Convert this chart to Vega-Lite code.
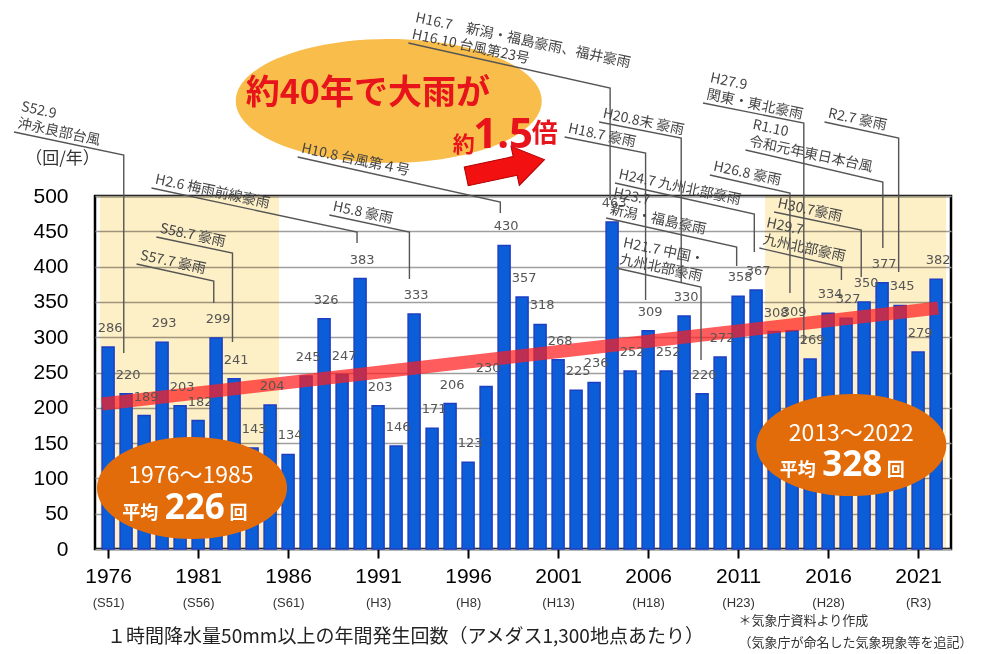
{
  "$schema": "https://vega.github.io/schema/vega-lite/v6.json",
  "width": 856,
  "height": 353,
  "autosize": {"type": "none"},
  "padding": {"left": 95, "top": 196, "right": 46, "bottom": 105},
  "background": "white",
  "config": {"view": {"stroke": "black", "strokeWidth": 2.5}, "font": "Noto Sans CJK JP"},
  "datasets": {
    "rain": [
      {"year": 1976, "count": 286}, {"year": 1977, "count": 220}, {"year": 1978, "count": 189},
      {"year": 1979, "count": 293}, {"year": 1980, "count": 203}, {"year": 1981, "count": 182},
      {"year": 1982, "count": 299}, {"year": 1983, "count": 241}, {"year": 1984, "count": 143},
      {"year": 1985, "count": 204}, {"year": 1986, "count": 134}, {"year": 1987, "count": 245},
      {"year": 1988, "count": 326}, {"year": 1989, "count": 247}, {"year": 1990, "count": 383},
      {"year": 1991, "count": 203}, {"year": 1992, "count": 146}, {"year": 1993, "count": 333},
      {"year": 1994, "count": 171}, {"year": 1995, "count": 206}, {"year": 1996, "count": 123},
      {"year": 1997, "count": 230}, {"year": 1998, "count": 430}, {"year": 1999, "count": 357},
      {"year": 2000, "count": 318}, {"year": 2001, "count": 268}, {"year": 2002, "count": 225},
      {"year": 2003, "count": 236}, {"year": 2004, "count": 463}, {"year": 2005, "count": 252},
      {"year": 2006, "count": 309}, {"year": 2007, "count": 252}, {"year": 2008, "count": 330},
      {"year": 2009, "count": 220}, {"year": 2010, "count": 272}, {"year": 2011, "count": 358},
      {"year": 2012, "count": 367}, {"year": 2013, "count": 308}, {"year": 2014, "count": 309},
      {"year": 2015, "count": 269}, {"year": 2016, "count": 334}, {"year": 2017, "count": 327},
      {"year": 2018, "count": 350}, {"year": 2019, "count": 377}, {"year": 2020, "count": 345},
      {"year": 2021, "count": 279}, {"year": 2022, "count": 382}
    ],
    "zones": [{"start": 1975.55, "end": 1985.5, "count": 500, "base": 0}, {"start": 2012.5, "end": 2022.55, "count": 500, "base": 0}],
    "trend": [{"year": 1975.66, "count": 205.4}, {"year": 2022.12, "count": 341.4}],
    "leaders": [
      {"id": "A", "ord": 0, "year": 1970.77, "count": 590.7}, {"id": "A", "ord": 1, "year": 1976.87, "count": 558.1}, {"id": "A", "ord": 2, "year": 1976.87, "count": 277.6},
      {"id": "B", "ord": 0, "year": 1978.41, "count": 511.3}, {"id": "B", "ord": 1, "year": 1989.83, "count": 449.0}, {"id": "B", "ord": 2, "year": 1989.83, "count": 433.4},
      {"id": "C", "ord": 0, "year": 1978.68, "count": 441.9}, {"id": "C", "ord": 1, "year": 1982.91, "count": 419.3}, {"id": "C", "ord": 2, "year": 1982.91, "count": 293.2},
      {"id": "D", "ord": 0, "year": 1977.58, "count": 403.7}, {"id": "D", "ord": 1, "year": 1981.87, "count": 379.6}, {"id": "D", "ord": 2, "year": 1981.87, "count": 348.4},
      {"id": "E", "ord": 0, "year": 1988.29, "count": 473.1}, {"id": "E", "ord": 1, "year": 1992.74, "count": 449.0}, {"id": "E", "ord": 2, "year": 1992.74, "count": 382.4},
      {"id": "F", "ord": 0, "year": 1986.53, "count": 555.2}, {"id": "F", "ord": 1, "year": 1997.79, "count": 491.5}, {"id": "F", "ord": 2, "year": 1997.79, "count": 475.9},
      {"id": "G", "ord": 0, "year": 1992.68, "count": 716.7}, {"id": "G", "ord": 1, "year": 2003.89, "count": 653.0}, {"id": "G", "ord": 2, "year": 2003.89, "count": 494.3},
      {"id": "H", "ord": 0, "year": 2003.28, "count": 604.8}, {"id": "H", "ord": 1, "year": 2007.84, "count": 582.2}, {"id": "H", "ord": 2, "year": 2007.84, "count": 378.2},
      {"id": "I", "ord": 0, "year": 2001.36, "count": 583.6}, {"id": "I", "ord": 1, "year": 2005.86, "count": 560.9}, {"id": "I", "ord": 2, "year": 2005.86, "count": 352.7},
      {"id": "J", "ord": 0, "year": 2004.16, "count": 518.4}, {"id": "J", "ord": 1, "year": 2011.90, "count": 474.5}, {"id": "J", "ord": 2, "year": 2011.90, "count": 420.7},
      {"id": "K", "ord": 0, "year": 2003.67, "count": 468.8}, {"id": "K", "ord": 1, "year": 2010.92, "count": 427.8}, {"id": "K", "ord": 2, "year": 2010.92, "count": 400.9},
      {"id": "L", "ord": 0, "year": 2004.22, "count": 398.0}, {"id": "L", "ord": 1, "year": 2008.94, "count": 371.1}, {"id": "L", "ord": 2, "year": 2008.94, "count": 267.7},
      {"id": "M", "ord": 0, "year": 2009.05, "count": 631.7}, {"id": "M", "ord": 1, "year": 2014.65, "count": 603.4}, {"id": "M", "ord": 2, "year": 2014.65, "count": 291.8},
      {"id": "N", "ord": 0, "year": 2011.41, "count": 565.2}, {"id": "N", "ord": 1, "year": 2019.04, "count": 519.8}, {"id": "N", "ord": 2, "year": 2019.04, "count": 426.3},
      {"id": "O", "ord": 0, "year": 2015.80, "count": 604.8}, {"id": "O", "ord": 1, "year": 2019.92, "count": 582.2}, {"id": "O", "ord": 2, "year": 2019.92, "count": 392.3},
      {"id": "P", "ord": 0, "year": 2009.43, "count": 529.7}, {"id": "P", "ord": 1, "year": 2013.88, "count": 504.2}, {"id": "P", "ord": 2, "year": 2013.88, "count": 362.6},
      {"id": "Q", "ord": 0, "year": 2013.00, "count": 477.3}, {"id": "Q", "ord": 1, "year": 2017.84, "count": 451.8}, {"id": "Q", "ord": 2, "year": 2017.84, "count": 385.3},
      {"id": "R", "ord": 0, "year": 2012.18, "count": 426.3}, {"id": "R", "ord": 1, "year": 2016.74, "count": 399.4}, {"id": "R", "ord": 2, "year": 2016.74, "count": 381.0}
    ],
    "notes": [
      {"id": "A", "lines": 2, "year": 1970.77, "count": 590.7, "label": "S52.9\n沖永良部台風"},
      {"id": "B", "lines": 1, "year": 1978.41, "count": 511.3, "label": "H2.6 梅雨前線豪雨"},
      {"id": "C", "lines": 1, "year": 1978.68, "count": 441.9, "label": "S58.7 豪雨"},
      {"id": "D", "lines": 1, "year": 1977.58, "count": 403.7, "label": "S57.7 豪雨"},
      {"id": "E", "lines": 1, "year": 1988.29, "count": 473.1, "label": "H5.8 豪雨"},
      {"id": "F", "lines": 1, "year": 1986.53, "count": 555.2, "label": "H10.8 台風第４号"},
      {"id": "G", "lines": 2, "year": 1992.68, "count": 716.7, "label": "H16.7　新潟・福島豪雨、福井豪雨\nH16.10 台風第23号"},
      {"id": "H", "lines": 1, "year": 2003.28, "count": 604.8, "label": "H20.8末 豪雨"},
      {"id": "I", "lines": 1, "year": 2001.36, "count": 583.6, "label": "H18.7 豪雨"},
      {"id": "J", "lines": 1, "year": 2004.16, "count": 518.4, "label": "H24.7 九州北部豪雨"},
      {"id": "K", "lines": 2, "year": 2003.67, "count": 468.8, "label": "H23.7\n新潟・福島豪雨"},
      {"id": "L", "lines": 2, "year": 2004.22, "count": 398.0, "label": "H21.7 中国・\n九州北部豪雨"},
      {"id": "M", "lines": 2, "year": 2009.05, "count": 631.7, "label": "H27.9\n関東・東北豪雨"},
      {"id": "N", "lines": 2, "year": 2011.41, "count": 565.2, "label": "R1.10\n令和元年東日本台風"},
      {"id": "O", "lines": 1, "year": 2015.80, "count": 604.8, "label": "R2.7 豪雨"},
      {"id": "P", "lines": 1, "year": 2009.43, "count": 529.7, "label": "H26.8 豪雨"},
      {"id": "Q", "lines": 1, "year": 2013.00, "count": 477.3, "label": "H30.7豪雨"},
      {"id": "R", "lines": 2, "year": 2012.18, "count": 426.3, "label": "H29.7\n九州北部豪雨"}
    ],
    "callouts": [
      {"part": "range", "text": "1976～1985", "year": 1980.60, "count": 93.5},
      {"part": "range", "text": "2013～2022", "year": 2017.29, "count": 153.0},
      {"part": "avgL", "text": "平均", "year": 1978.79, "count": 42.5},
      {"part": "avgL", "text": "平均", "year": 2015.31, "count": 103.4},
      {"part": "avgN", "text": "226", "year": 1980.82, "count": 42.5},
      {"part": "avgN", "text": "328", "year": 2017.34, "count": 103.4},
      {"part": "avgR", "text": "回", "year": 1982.74, "count": 42.5},
      {"part": "avgR", "text": "回", "year": 2019.26, "count": 103.4},
      {"part": "head", "text": "約40年で大雨が", "year": 1990.43, "count": 630.3},
      {"part": "yaku", "text": "約", "year": 1995.76, "count": 562.3},
      {"part": "times", "text": "1.5", "year": 1997.95, "count": 568.0},
      {"part": "bai", "text": "倍", "year": 2000.26, "count": 576.5}
    ]
  },
  "encoding": {
    "y": {"field": "count", "type": "quantitative", "scale": {"domain": [0, 500], "nice": false, "zero": false},
      "axis": {"orient": "left", "values": [0, 50, 100, 150, 200, 250, 300, 350, 400, 450, 500], "format": "d", "labelFont": "Liberation Sans", "labelFontSize": 21,
        "labelColor": "#000", "tickSize": 0, "tickColor": "white", "domain": false, "grid": true, "gridColor": "#9e9e9e", "gridWidth": 1.3, "labelPadding": 27,
        "title": "（回/年）", "titleAngle": 0, "titleX": -33, "titleY": -38, "titleAlign": "center", "titleBaseline": "middle",
        "titleFontSize": 17, "titleFont": "Noto Sans CJK JP", "titleFontWeight": "normal", "titleColor": "#333"}}
  },
  "resolve": {"axis": {"x": "independent", "y": "shared"}},
  "layer": [
    {
      "data": {"name": "zones"},
      "mark": {"type": "rect", "fill": "#fdefc6", "blend": "multiply"},
      "encoding": {
        "x": {"field": "start", "type": "quantitative", "scale": {"domain": [1975.55, 2022.55], "nice": false, "zero": false}, "axis": null},
        "x2": {"field": "end"},
        "y2": {"field": "base"}
      }
    },
    {
      "data": {"name": "rain"},
      "mark": {"type": "bar", "width": 12, "orient": "vertical", "fill": "#0b5ed7", "stroke": "#1d3fc4", "strokeWidth": 1.5},
      "encoding": {
        "x": {"field": "year", "type": "quantitative", "scale": {"domain": [1975.55, 2022.55], "nice": false, "zero": false},
          "axis": {"orient": "bottom", "values": [1976, 1981, 1986, 1991, 1996, 2001, 2006, 2011, 2016, 2021], "format": "d",
            "labelFont": "Liberation Sans", "labelFontSize": 21, "labelColor": "#000", "tickColor": "#000", "tickWidth": 2, "tickSize": 9,
            "labelPadding": 7, "domain": false, "grid": false, "labelFlush": false, "labelOverlap": false,
            "title": ["＊気象庁資料より作成", "（気象庁が命名した気象現象等を追記）"], "titleFont": "Noto Sans CJK JP", "titleFontSize": 13,
            "titleFontWeight": "normal", "titleColor": "#333", "titleAlign": "left", "titleAnchor": null, "titleX": 643, "titleY": 65,
            "titleBaseline": "top", "titleLineHeight": 22}}
      }
    },
    {
      "data": {"name": "trend"},
      "mark": {"type": "line", "color": "#ff1f1f", "strokeWidth": 13, "opacity": 0.72, "strokeCap": "butt"},
      "encoding": {
        "x": {"field": "year", "type": "quantitative", "scale": {"domain": [1975.55, 2022.55], "nice": false, "zero": false}, "axis": null}
      }
    },
    {
      "data": {"name": "rain"},
      "mark": {"type": "text", "dy": -19, "dx": 2, "fontSize": 13, "font": "DejaVu Sans", "fill": "#555", "baseline": "middle"},
      "encoding": {
        "x": {"field": "year", "type": "quantitative", "scale": {"domain": [1975.55, 2022.55], "nice": false, "zero": false}, "axis": null},
        "text": {"field": "count", "type": "quantitative"}
      }
    },
    {
      "data": {"values": [{"year": 1991.59, "count": 634.6}]},
      "mark": {"type": "point", "filled": true, "opacity": 1, "size": 93636, "fill": "#f8bd4a", "strokeWidth": 0,
        "shape": "M-1,0C-1,-0.2237 -0.5523,-0.405 0,-0.405C0.5523,-0.405 1,-0.2237 1,0C1,0.2237 0.5523,0.405 0,0.405C-0.5523,0.405 -1,0.2237 -1,0Z"},
      "encoding": {
        "x": {"field": "year", "type": "quantitative", "scale": {"domain": [1975.55, 2022.55], "nice": false, "zero": false}, "axis": null}
      }
    },
    {
      "data": {"values": [{"year": 1980.66, "count": 86.4}, {"year": 2017.29, "count": 147.3}]},
      "mark": {"type": "point", "filled": true, "opacity": 1, "size": 36100, "fill": "#e26b0a", "strokeWidth": 0,
        "shape": "M-1,0C-1,-0.2966 -0.5523,-0.537 0,-0.537C0.5523,-0.537 1,-0.2966 1,0C1,0.2966 0.5523,0.537 0,0.537C-0.5523,0.537 -1,0.2966 -1,0Z"},
      "encoding": {
        "x": {"field": "year", "type": "quantitative", "scale": {"domain": [1975.55, 2022.55], "nice": false, "zero": false}, "axis": null}
      }
    },
    {
      "data": {"values": [{"year": 1998.07, "count": 539.7}]},
      "mark": {"type": "point", "filled": true, "opacity": 1, "size": 6400, "fill": "#f21010", "stroke": "#b00000", "strokeWidth": 1, "angle": -12,
        "shape": "M-1,-0.24L0.25,-0.24L0.25,-0.5L1,0L0.25,0.5L0.25,0.24L-1,0.24Z"},
      "encoding": {
        "x": {"field": "year", "type": "quantitative", "scale": {"domain": [1975.55, 2022.55], "nice": false, "zero": false}, "axis": null}
      }
    },
    {
      "data": {"name": "callouts"},
      "transform": [{"filter": "datum.part === 'range'"}],
      "mark": {"type": "text", "fill": "white", "fontSize": 23, "font": "Noto Sans CJK JP", "align": "center", "baseline": "alphabetic"},
      "encoding": {
        "x": {"field": "year", "type": "quantitative", "scale": {"domain": [1975.55, 2022.55], "nice": false, "zero": false}, "axis": null},
        "text": {"field": "text"}
      }
    },
    {
      "data": {"name": "callouts"},
      "transform": [{"filter": "datum.part === 'avgL'"}],
      "mark": {"type": "text", "fill": "white", "fontSize": 18, "fontWeight": "bold", "font": "Noto Sans CJK JP", "align": "right", "baseline": "alphabetic"},
      "encoding": {
        "x": {"field": "year", "type": "quantitative", "scale": {"domain": [1975.55, 2022.55], "nice": false, "zero": false}, "axis": null},
        "text": {"field": "text"}
      }
    },
    {
      "data": {"name": "callouts"},
      "transform": [{"filter": "datum.part === 'avgN'"}],
      "mark": {"type": "text", "fill": "white", "fontSize": 35, "fontWeight": "bold", "font": "Noto Sans", "align": "center", "baseline": "alphabetic"},
      "encoding": {
        "x": {"field": "year", "type": "quantitative", "scale": {"domain": [1975.55, 2022.55], "nice": false, "zero": false}, "axis": null},
        "text": {"field": "text"}
      }
    },
    {
      "data": {"name": "callouts"},
      "transform": [{"filter": "datum.part === 'avgR'"}],
      "mark": {"type": "text", "fill": "white", "fontSize": 18, "fontWeight": "bold", "font": "Noto Sans CJK JP", "align": "left", "baseline": "alphabetic"},
      "encoding": {
        "x": {"field": "year", "type": "quantitative", "scale": {"domain": [1975.55, 2022.55], "nice": false, "zero": false}, "axis": null},
        "text": {"field": "text"}
      }
    },
    {
      "data": {"name": "callouts"},
      "transform": [{"filter": "datum.part === 'head'"}],
      "mark": {"type": "text", "fill": "#e8141c", "fontSize": 34, "fontWeight": "bold", "font": "Noto Sans CJK JP", "align": "center", "baseline": "alphabetic"},
      "encoding": {
        "x": {"field": "year", "type": "quantitative", "scale": {"domain": [1975.55, 2022.55], "nice": false, "zero": false}, "axis": null},
        "text": {"field": "text"}
      }
    },
    {
      "data": {"name": "callouts"},
      "transform": [{"filter": "datum.part === 'yaku'"}],
      "mark": {"type": "text", "fill": "#e8141c", "fontSize": 22, "fontWeight": "bold", "font": "Noto Sans CJK JP", "align": "center", "baseline": "alphabetic"},
      "encoding": {
        "x": {"field": "year", "type": "quantitative", "scale": {"domain": [1975.55, 2022.55], "nice": false, "zero": false}, "axis": null},
        "text": {"field": "text"}
      }
    },
    {
      "data": {"name": "callouts"},
      "transform": [{"filter": "datum.part === 'times'"}],
      "mark": {"type": "text", "fill": "#e8141c", "fontSize": 42, "fontWeight": "bold", "font": "Noto Sans", "align": "center", "baseline": "alphabetic"},
      "encoding": {
        "x": {"field": "year", "type": "quantitative", "scale": {"domain": [1975.55, 2022.55], "nice": false, "zero": false}, "axis": null},
        "text": {"field": "text"}
      }
    },
    {
      "data": {"name": "callouts"},
      "transform": [{"filter": "datum.part === 'bai'"}],
      "mark": {"type": "text", "fill": "#e8141c", "fontSize": 26, "fontWeight": "bold", "font": "Noto Sans CJK JP", "align": "center", "baseline": "alphabetic"},
      "encoding": {
        "x": {"field": "year", "type": "quantitative", "scale": {"domain": [1975.55, 2022.55], "nice": false, "zero": false}, "axis": null},
        "text": {"field": "text"}
      }
    },
    {
      "data": {"name": "leaders"},
      "mark": {"type": "line", "color": "#555", "strokeWidth": 1.4},
      "encoding": {
        "x": {"field": "year", "type": "quantitative", "scale": {"domain": [1975.55, 2022.55], "nice": false, "zero": false},
          "axis": {"orient": "bottom", "values": [1976, 1981, 1986, 1991, 1996, 2001, 2006, 2011, 2016, 2021],
            "labelExpr": "datum.value < 1989 ? '(S' + (datum.value - 1925) + ')' : datum.value < 2019 ? '(H' + (datum.value - 1988) + ')' : '(R' + (datum.value - 2018) + ')'",
            "labelFont": "Liberation Sans", "labelFontSize": 13, "labelColor": "#333", "ticks": false, "domain": false, "grid": false,
            "labelPadding": 47, "labelFlush": false, "labelOverlap": false,
            "title": "１時間降水量50mm以上の年間発生回数（アメダス1,300地点あたり）", "titleFont": "Noto Sans CJK JP", "titleFontSize": 19,
            "titleFontWeight": "normal", "titleColor": "#222", "titleX": 310, "titleY": 87, "titleAlign": "center", "titleBaseline": "middle", "titleAnchor": null}},
        "detail": {"field": "id"},
        "order": {"field": "ord", "type": "quantitative"}
      }
    },
    {
      "data": {"name": "notes"},
      "transform": [{"filter": "datum.lines === 1"}],
      "mark": {"type": "text", "angle": 12, "align": "left", "baseline": "bottom", "dx": 2, "dy": -2, "fontSize": 14, "lineBreak": "\n", "lineHeight": 17, "fill": "#444", "font": "Noto Sans CJK JP"},
      "encoding": {
        "x": {"field": "year", "type": "quantitative", "scale": {"domain": [1975.55, 2022.55], "nice": false, "zero": false}, "axis": null},
        "text": {"field": "label"}
      }
    },
    {
      "data": {"name": "notes"},
      "transform": [{"filter": "datum.lines === 2"}],
      "mark": {"type": "text", "angle": 12, "align": "left", "baseline": "bottom", "dx": 2, "dy": -19, "fontSize": 14, "lineBreak": "\n", "lineHeight": 17, "fill": "#444", "font": "Noto Sans CJK JP"},
      "encoding": {
        "x": {"field": "year", "type": "quantitative", "scale": {"domain": [1975.55, 2022.55], "nice": false, "zero": false}, "axis": null},
        "text": {"field": "label"}
      }
    }
  ]
}
